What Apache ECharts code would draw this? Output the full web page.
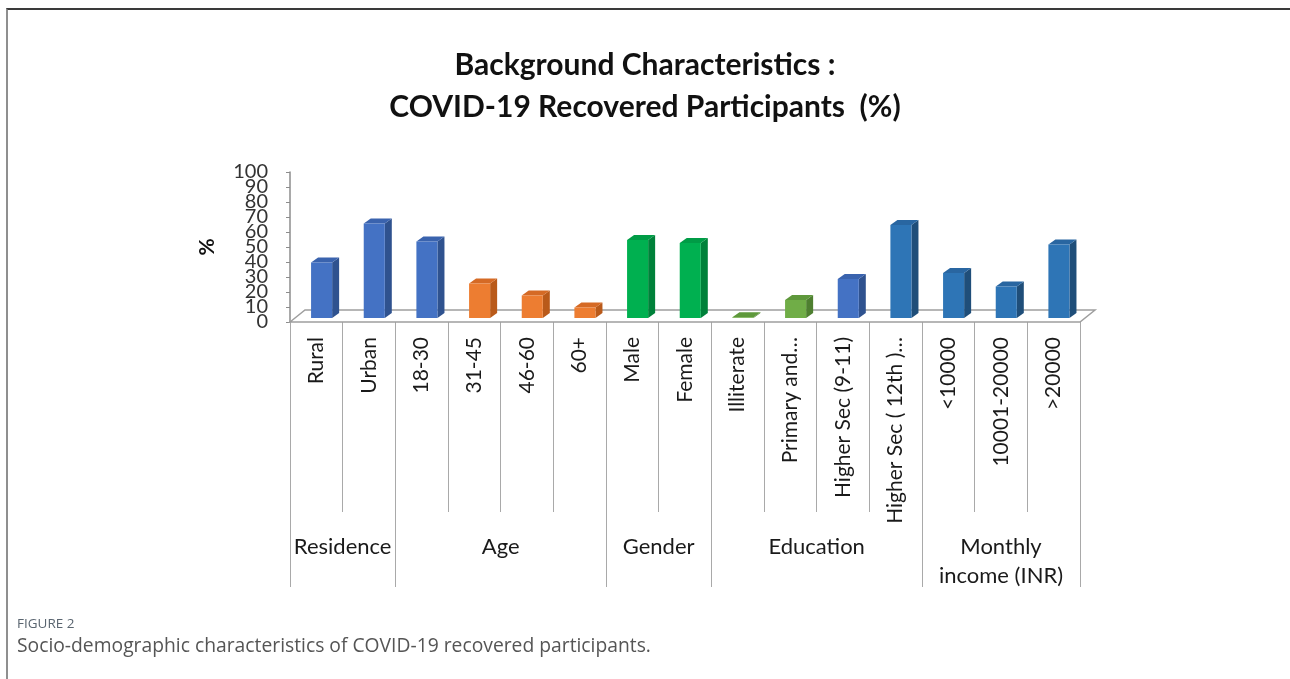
<!DOCTYPE html>
<html>
<head>
<meta charset="utf-8">
<script src="https://cdn.jsdelivr.net/npm/echarts@6/dist/echarts.min.js"></script>
<style>
  html, body { margin: 0; padding: 0; background: #fff; }
  #chart { width: 1290px; height: 679px; }
  #frame {
    position: absolute; left: 6px; top: 8px; right: 0; bottom: 0;
    border-top: 2px solid #3a3a3a; border-left: 2px solid #8f8f8f;
    pointer-events: none;
  }
</style>
</head>
<body>
<div id="chart"></div>
<div id="frame"></div>
<script>
// categories along the floor and the %
const categories = ['Rural', 'Urban', '18-30', '31-45', '46-60', '60+', 'Male', 'Female',
  'Illiterate', 'Primary and…', 'Higher Sec (9-11)', 'Higher Sec ( 12th )…',
  '<10000', '10001-20000', '>20000'];
const percents = [37, 63, 51, 23, 15, 7, 52, 50, 0.5, 12, 26, 62, 30, 21, 49];

// second level of the axis
const groupNames = ['Residence', 'Age', 'Gender', 'Education', 'Monthly\nincome (INR)'];
const groupSizes = [2, 4, 2, 4, 3];

// y ticks
const yTicks = [0, 10, 20, 30, 40, 50, 60, 70, 80, 90, 100];

// bar colours (front, side, top)
const shades = {
  blue:  ['#4472C4', '#2F528F', '#3A63AE'],
  navy:  ['#2E75B6', '#1F4E79', '#2966A1'],
  orange:['#ED7D31', '#B95A1A', '#D56A25'],
  green: ['#00B050', '#00813A', '#009C46'],
  lime:  ['#70AD47', '#4E7F30', '#5E983B'],
};
const barShade = ['blue', 'blue', 'blue', 'orange', 'orange', 'orange', 'green', 'green',
  'lime', 'lime', 'blue', 'navy', 'navy', 'navy', 'navy'];

const groupBounds = [0];
groupSizes.forEach(s => groupBounds.push(groupBounds[groupBounds.length - 1] + s));
const groupCenters = groupSizes.map((s, i) => groupBounds[i] + s / 2);

const yMin = yTicks[0], yMax = yTicks[yTicks.length - 1];
const yStep = yTicks[1] - yTicks[0];
// labels sit only 15px apart, so split them over two axes to stop echarts hiding any
const yEven = yTicks.filter((t, i) => i % 2 === 0);
const yOdd = yTicks.filter((t, i) => i % 2 === 1);

const chart = echarts.init(document.getElementById('chart'));
const font = 'Lato, "Liberation Sans", sans-serif';
const depth = [15, -12];   // floor depth
const barDepth = [7, -5];
const yLabel = { margin: 22, fontFamily: font, fontSize: 20, color: '#333' };

const option = {
  animation: false,
  title: [
    {
      text: 'Background Characteristics :\nCOVID-19 Recovered Participants  (%)',
      left: 'center', top: 39,
      textStyle: { fontFamily: font, fontWeight: 'bold', fontSize: 30, lineHeight: 42, color: '#111' }
    },
    {
      text: 'FIGURE 2', left: 12, top: 612,
      textStyle: { fontFamily: '"Open Sans", sans-serif', fontWeight: 'normal', fontSize: 13.5, color: '#5a6570' }
    },
    {
      text: 'Socio-demographic characteristics of COVID-19 recovered participants.', left: 12, top: 632,
      textStyle: { fontFamily: '"Open Sans", sans-serif', fontWeight: 'normal', fontSize: 19.3, color: '#555' }
    }
  ],
  grid: { left: 290, right: 210, top: 172, bottom: 357, containLabel: false },
  xAxis: [
    {
      type: 'category', data: categories, position: 'bottom',
      axisLine: { show: false },
      axisTick: { show: true, length: 190, lineStyle: { color: '#a9a9a9', width: 1 } },
      axisLabel: { interval: 0, rotate: 90, margin: 15, fontFamily: font, fontSize: 21, color: '#1a1a1a' }
    },
    {
      type: 'value', min: 0, max: categories.length, position: 'bottom',
      axisLine: { show: false }, splitLine: { show: false },
      axisTick: { show: true, customValues: groupBounds, length: 265, lineStyle: { color: '#a9a9a9', width: 1 } },
      axisLabel: {
        customValues: groupCenters, margin: 210, fontFamily: font, fontSize: 22, lineHeight: 29,
        color: '#1a1a1a', align: 'center',
        formatter: v => groupNames[groupCenters.indexOf(v)]
      }
    }
  ],
  yAxis: [
    {
      type: 'value', min: yMin, max: yMax, interval: yStep, position: 'left',
      name: '%', nameLocation: 'middle', nameRotate: 90, nameGap: 72,
      nameTextStyle: { fontFamily: font, fontWeight: 'bold', fontSize: 21, color: '#111' },
      axisLine: { show: true, lineStyle: { color: '#8c8c8c', width: 1.5 } },
      axisTick: { show: true, length: 4, customValues: yTicks, lineStyle: { color: '#8c8c8c' } },
      splitLine: { show: false },
      axisLabel: Object.assign({ customValues: yEven, showMinLabel: true, showMaxLabel: true }, yLabel)
    },
    {
      type: 'value', min: yMin, max: yMax, interval: yStep, position: 'left', offset: 0,
      axisLine: { show: false }, axisTick: { show: false }, splitLine: { show: false },
      axisLabel: Object.assign({ customValues: yOdd }, yLabel)
    }
  ],
  series: [
    {
      // floor of the 3D plot
      type: 'custom', silent: true, z: 1,
      data: [[0, 0]],
      renderItem: (params, api) => {
        const cs = params.coordSys;
        const y0 = cs.y + cs.height;
        const x0 = cs.x, x1 = cs.x + cs.width;
        return {
          type: 'polygon',
          shape: { points: [[x0, y0], [x0 + depth[0], y0 + depth[1]], [x1 + depth[0], y0 + depth[1]], [x1, y0]] },
          style: { fill: '#fff', stroke: '#9e9e9e', lineWidth: 1.5 }
        };
      }
    },
    {
      type: 'custom', z: 2,
      data: percents.map((v, i) => [i, v]),
      renderItem: (params, api) => {
        const i = api.value(0), v = api.value(1);
        const base = api.coord([i, 0]);
        const top = api.coord([i, v]);
        const band = api.size([1, 0])[0];
        const w = band * 0.4;
        const cx = base[0] + band * 0.1;
        const lift = 4;
        const xl = cx - w / 2, xr = cx + w / 2;
        const yb = base[1] - lift, yt = top[1] - lift;
        const [dx, dy] = barDepth;
        const c = shades[barShade[params.dataIndex]];
        return {
          type: 'group',
          children: [
            { type: 'polygon', shape: { points: [[xr, yt], [xr + dx, yt + dy], [xr + dx, yb + dy], [xr, yb]] },
              style: { fill: c[1] } },
            { type: 'polygon', shape: { points: [[xl, yt], [xl + dx, yt + dy], [xr + dx, yt + dy], [xr, yt]] },
              style: { fill: c[2] } },
            { type: 'rect', shape: { x: xl, y: yt, width: w, height: yb - yt },
              style: { fill: c[0] } }
          ]
        };
      }
    }
  ]
};
chart.setOption(option);
</script>
</body>
</html>
